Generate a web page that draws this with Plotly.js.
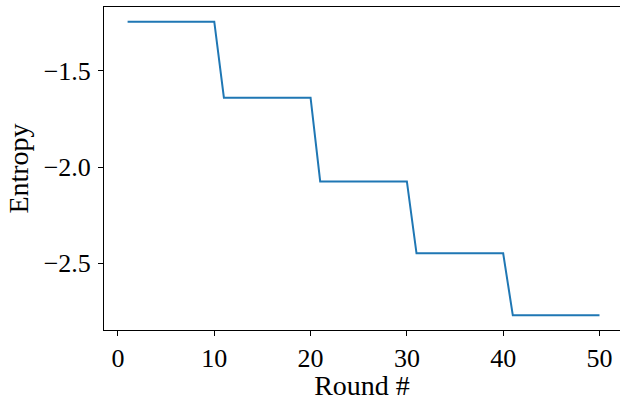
<!DOCTYPE html>
<html>
<head>
<meta charset="utf-8">
<script src="https://cdn.plot.ly/plotly-3.0.1.min.js"></script>
<style>html,body{margin:0;padding:0;background:#fff;}#chart{width:620px;height:401px;}</style>
</head>
<body>
<div id="chart"></div>
<script>
const rounds = [1,2,3,4,5,6,7,8,9,10,11,12,13,14,15,16,17,18,19,20,21,22,23,24,25,26,27,28,29,30,31,32,33,34,35,36,37,38,39,40,41,42,43,44,45,46,47,48,49,50];
const entropy = [
  -1.244,-1.244,-1.244,-1.244,-1.244,-1.244,-1.244,-1.244,-1.244,-1.244,
  -1.639,-1.639,-1.639,-1.639,-1.639,-1.639,-1.639,-1.639,-1.639,-1.639,
  -2.074,-2.074,-2.074,-2.074,-2.074,-2.074,-2.074,-2.074,-2.074,-2.074,
  -2.448,-2.448,-2.448,-2.448,-2.448,-2.448,-2.448,-2.448,-2.448,-2.448,
  -2.770,-2.770,-2.770,-2.770,-2.770,-2.770,-2.770,-2.770,-2.770,-2.770
];
const xTicks = [0,10,20,30,40,50];
const yTicks = [-1.5,-2.0,-2.5];
const yTickText = ['\u22121.5','\u22122.0','\u22122.5'];
const xLabel = 'Round #';
const yLabel = 'Entropy';

const tickFont = {family: '"Liberation Serif", "DejaVu Serif", serif', size: 26, color: '#000'};
const titleFont = {family: '"Liberation Serif", "DejaVu Serif", serif', size: 28, color: '#000'};
const axisCommon = {
  showline: true, linecolor: '#000', linewidth: 1,
  ticks: 'outside', ticklen: 5, tickwidth: 1, tickcolor: '#000',
  showgrid: false, zeroline: false, tickfont: tickFont
};
Plotly.newPlot('chart', [{
  x: rounds, y: entropy, type: 'scatter', mode: 'lines',
  line: {color: '#1f77b4', width: 2}
}], {
  width: 620, height: 401,
  margin: {l: 104, r: 0, t: 7, b: 71},
  paper_bgcolor: '#fff', plot_bgcolor: '#fff',
  showlegend: false,
  font: tickFont,
  xaxis: Object.assign({}, axisCommon, {
    mirror: true,
    range: [-1.45, 52.13], tickvals: xTicks, ticktext: xTicks.map(String),
    title: {text: xLabel, font: titleFont, standoff: 2}
  }),
  yaxis: Object.assign({}, axisCommon, {
    mirror: false,
    range: [-2.8463, -1.1677], tickvals: yTicks, ticktext: yTickText,
    ticklabelstandoff: 2,
    title: {text: yLabel, font: titleFont, standoff: 6}
  })
}, {displayModeBar: false, staticPlot: true});
</script>
</body>
</html>
